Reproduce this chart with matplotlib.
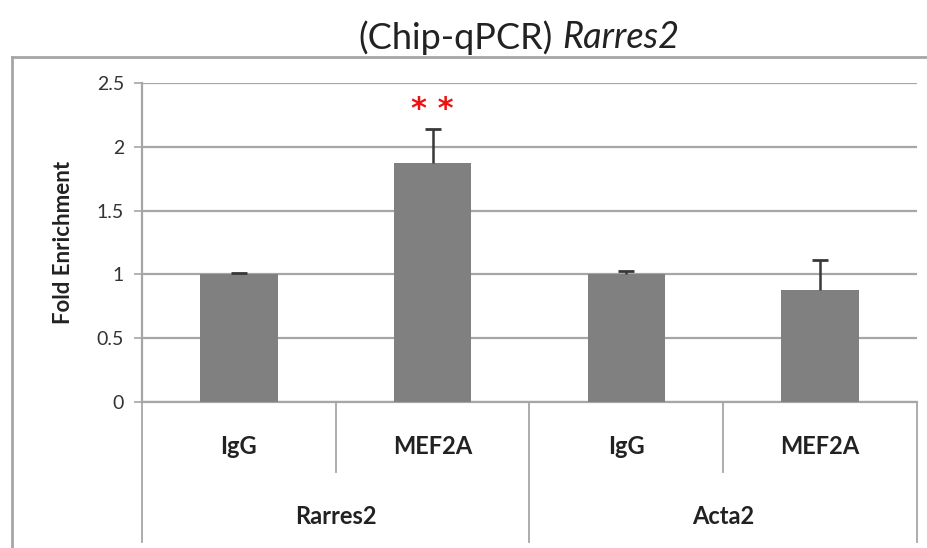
import matplotlib.pyplot as plt
import matplotlib.transforms as mtransforms
from matplotlib.lines import Line2D

plt.rcParams['font.family'] = ['Lato', 'DejaVu Sans']

groups = ["Rarres2", "Acta2"]
antibodies = ["IgG", "MEF2A", "IgG", "MEF2A"]
values = [1.0, 1.87, 1.0, 0.88]
errors = [0.01, 0.27, 0.03, 0.23]
marks = ["", "* *", "", ""]
yticks = [0, 0.5, 1, 1.5, 2, 2.5]

W, H = 928, 548
fig = plt.figure(figsize=(W / 100, H / 100), dpi=100)
ax = fig.add_axes([142 / W, 1 - 402 / H, (917 - 142) / W, (402 - 83) / H])

grey = '#a6a6a6'
x = list(range(len(values)))
tops = [v + e for v, e in zip(values, errors)]
ax.bar(x, values, width=0.4, color='#808080', zorder=3)
# upper-only error bars (no cap at the bar top)
ax.vlines(x, values, tops, color='#383838', linewidth=1.8, zorder=4)
ax.plot(x, tops, linestyle='none', marker='_', markersize=11, markeredgewidth=2,
        color='#383838', zorder=4)
for xi, t, m in zip(x, tops, marks):
    if m:
        ax.text(xi, t + 0.15, m, ha='center', va='center', color='#ee1111',
                fontsize=22, fontweight='bold', family='DejaVu Sans')

ax.set_xlim(-0.5, len(values) - 0.5)
ax.set_ylim(0, 2.5)
ax.set_yticks(yticks)
ax.set_yticklabels([f"{t:g}" for t in yticks], fontsize=14, color='#333333')
ax.set_xticks([])
ax.yaxis.grid(True, color=grey, linewidth=1.6, zorder=0)
ax.tick_params(axis='y', length=6, width=1.2, color=grey, pad=7)
for s in ['top', 'right']:
    ax.spines[s].set_visible(False)
ax.spines['left'].set_color(grey)
ax.spines['left'].set_linewidth(1.6)
ax.spines['bottom'].set_color(grey)
ax.spines['bottom'].set_linewidth(1.6)
ax.set_ylabel("Fold Enrichment", fontsize=16, fontweight='bold', color='#222222')
ax.yaxis.set_label_coords(-(142 - 74) / (917 - 142), 0.5)

# hierarchical category axis
trans = mtransforms.blended_transform_factory(ax.transData, ax.transAxes)
ax_h = 402 - 83
short_end = -(472 - 402) / ax_h
long_end = -(542 - 402) / ax_h
for xi in [0.5, 2.5]:
    ax.add_line(Line2D([xi, xi], [0, short_end], transform=trans, color=grey,
                       linewidth=1.3, clip_on=False))
for xi in [-0.5, 1.5, 3.5]:
    ax.add_line(Line2D([xi, xi], [0, long_end], transform=trans, color=grey,
                       linewidth=1.3, clip_on=False))
for xi, lab in zip(x, antibodies):
    ax.text(xi, -(447 - 402) / ax_h, lab, transform=trans, ha='center', va='center',
            fontsize=17, fontweight='bold', color='#222222')
for gi, g in enumerate(groups):
    ax.text(gi * 2 + 0.5, -(517 - 402) / ax_h, g, transform=trans, ha='center',
            va='center', fontsize=17, fontweight='bold', color='#222222')

# outer chart frame
fig.add_artist(Line2D([12 / W, 1], [1 - 57 / H, 1 - 57 / H], transform=fig.transFigure,
                      color=grey, linewidth=2))
fig.add_artist(Line2D([12 / W, 12 / W], [0, 1 - 57 / H], transform=fig.transFigure,
                      color=grey, linewidth=2))

# title: regular part + italic gene name
fig.text(553 / W, 1 - 38 / H, "(Chip-qPCR)", ha='right', va='center',
         fontsize=26, color='#222222')
fig.text(562 / W, 1 - 38 / H, "Rarres2", ha='left', va='center',
         fontsize=26, style='italic', color='#222222')

fig.savefig('out.png', dpi=100)
